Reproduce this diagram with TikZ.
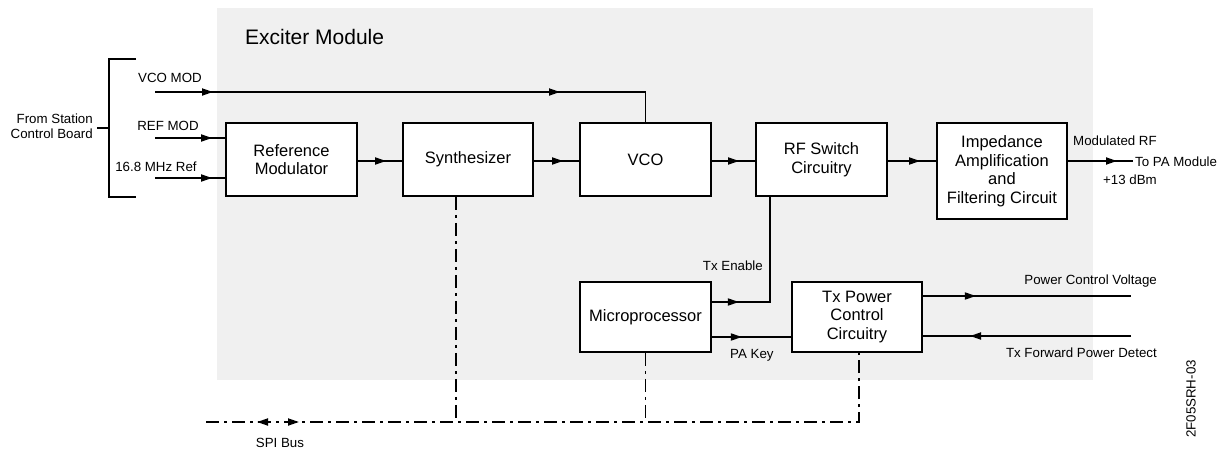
\documentclass[tikz,border=0pt]{standalone}
\usepackage{fontspec}
\setmainfont{Liberation Sans}
\usetikzlibrary{arrows.meta,decorations.markings}
\definecolor{bggray}{HTML}{F0F0F0}
\tikzset{
  blk/.style={draw,line width=1.8pt,fill=white,minimum width=131pt,minimum height=73pt,inner sep=0pt,align=center,font=\fontsize{16.5}{18.5}\selectfont},
  lbl/.style={inner sep=0pt,font=\fontsize{13.3}{15.5}\selectfont},
  wire/.style={line width=1.8pt},
  bus/.style={line width=1.8pt,dash pattern=on 13pt off 5pt on 3pt off 5pt},
  myarr/.tip={Triangle[length=11pt,width=7pt]},
  midarr/.style={postaction={decorate},decoration={markings,mark=at position #1 with {\arrow{myarr}}}},
}
\begin{document}
\begin{tikzpicture}[x=1pt,y=-1pt]
\useasboundingbox (0,0) rectangle (1221,450);
\fill[bggray] (217,8) rectangle (1093,380);
\node[lbl,anchor=west,font=\fontsize{21}{24}\selectfont] (exc) at (245,37) {Exciter Module};

% blocks
\node[blk] (refmod) at (291.5,159.5) {Reference\\Modulator};
\node[blk,minimum width=130pt] (synth) at (468,159.5) {Synthesizer};
\node[blk] (vco) at (645.5,159.5) {VCO};
\node[blk] (rfsw) at (821.5,159.5) {RF Switch\\Circuitry};
\node[blk,minimum width=130pt,minimum height=96pt] (imp) at (1002,171) {Impedance\\Amplification\\and\\Filtering Circuit};
\node[blk,minimum height=70pt] (micro) at (645.5,317) {Microprocessor};
\node[blk,minimum width=130pt,minimum height=70pt] (txp) at (857,317) {Tx Power\\Control\\Circuitry};

% bracket and inputs
\coordinate (bt) at (109,59);
\coordinate (bb) at (109,197);
\coordinate (bm) at (109,128);
\draw[wire] (136,59) -- (bt) -- (bb) -- (136,197);
\draw[wire] (97,128) -- (bm);
\node[lbl,anchor=east,align=right] (from) at (93,126) {From Station\\Control Board};

\coordinate (vin) at (155,92);
\coordinate (rin) at (155,138);
\coordinate (fin) at (155,178);
\node[lbl] (lvco) at (170,78) {VCO MOD};
\node[lbl] (lref) at (168,126) {REF MOD};
\node[lbl] (lfreq) at (156,167) {16.8 MHz Ref};

\draw[wire,postaction={decorate},decoration={markings,
  mark=at position 58pt with {\arrow{myarr}},
  mark=at position 405pt with {\arrow{myarr}}}]
  (vin) -- (vin -| vco.north) -- (vco.north);
\draw[wire,midarr=-13pt] (rin) -- (rin -| refmod.west);
\draw[wire,midarr=-13pt] (fin) -- (fin -| refmod.west);

% main chain
\coordinate (my) at (0,161);
\draw[wire,midarr=-16pt] (my -| refmod.east) -- (my -| synth.west);
\draw[wire,midarr=-16pt] (my -| synth.east) -- (my -| vco.west);
\draw[wire,midarr=-16pt] (my -| vco.east) -- (my -| rfsw.west);
\draw[wire,midarr=-16pt] (my -| rfsw.east) -- (my -| imp.west);
\coordinate (out) at (1133,161);
\draw[wire,midarr=-16pt] (out -| imp.east) -- (out);
\node[lbl,anchor=west] (lmod) at (1073,141) {Modulated RF};
\node[lbl,anchor=west] (lpa) at (1135,162) {To PA Module};
\node[lbl,anchor=west] (ldbm) at (1103,180) {+13 dBm};

% control
\coordinate (te) at (770,302);
\draw[wire,midarr=27pt] (te -| micro.east) -- (te) -- (te |- rfsw.south);
\node[lbl,anchor=east] (lte) at (763,266) {Tx Enable};
\coordinate (pk) at (0,337);
\draw[wire,midarr=30pt] (pk -| micro.east) -- (pk -| txp.west);
\node[lbl,anchor=west] (lpk) at (730,355) {PA Key};
\coordinate (pcv) at (1131,296);
\draw[wire,midarr=53pt] (pcv -| txp.east) -- (pcv);
\node[lbl,anchor=east] (lpcv) at (1157,281) {Power Control Voltage};
\coordinate (fpd) at (1131,336);
\draw[wire,midarr=161pt] (fpd) -- (fpd -| txp.east);
\node[lbl,anchor=east] (lfpd) at (1157,353) {Tx Forward Power Detect};

% SPI bus
\coordinate (spil) at (206,422);
\coordinate (sy) at (456,0);
\coordinate (txb) at (859,0);
\draw[bus,postaction={decorate},decoration={markings,
  mark=at position 51pt with {\arrowreversed{myarr}},
  mark=at position 93pt with {\arrow{myarr}}}]
  (spil) -- (spil -| txb) -- (txb |- txp.south);
\draw[bus] (sy |- synth.south) -- (sy |- spil);
\draw[bus] (micro.south) -- (micro.south |- spil);
\node[lbl] (lspi) at (280,443) {SPI Bus};

\node[lbl,rotate=90] (code) at (1191,399) {2F05SRH-03};
\end{tikzpicture}
\end{document}
